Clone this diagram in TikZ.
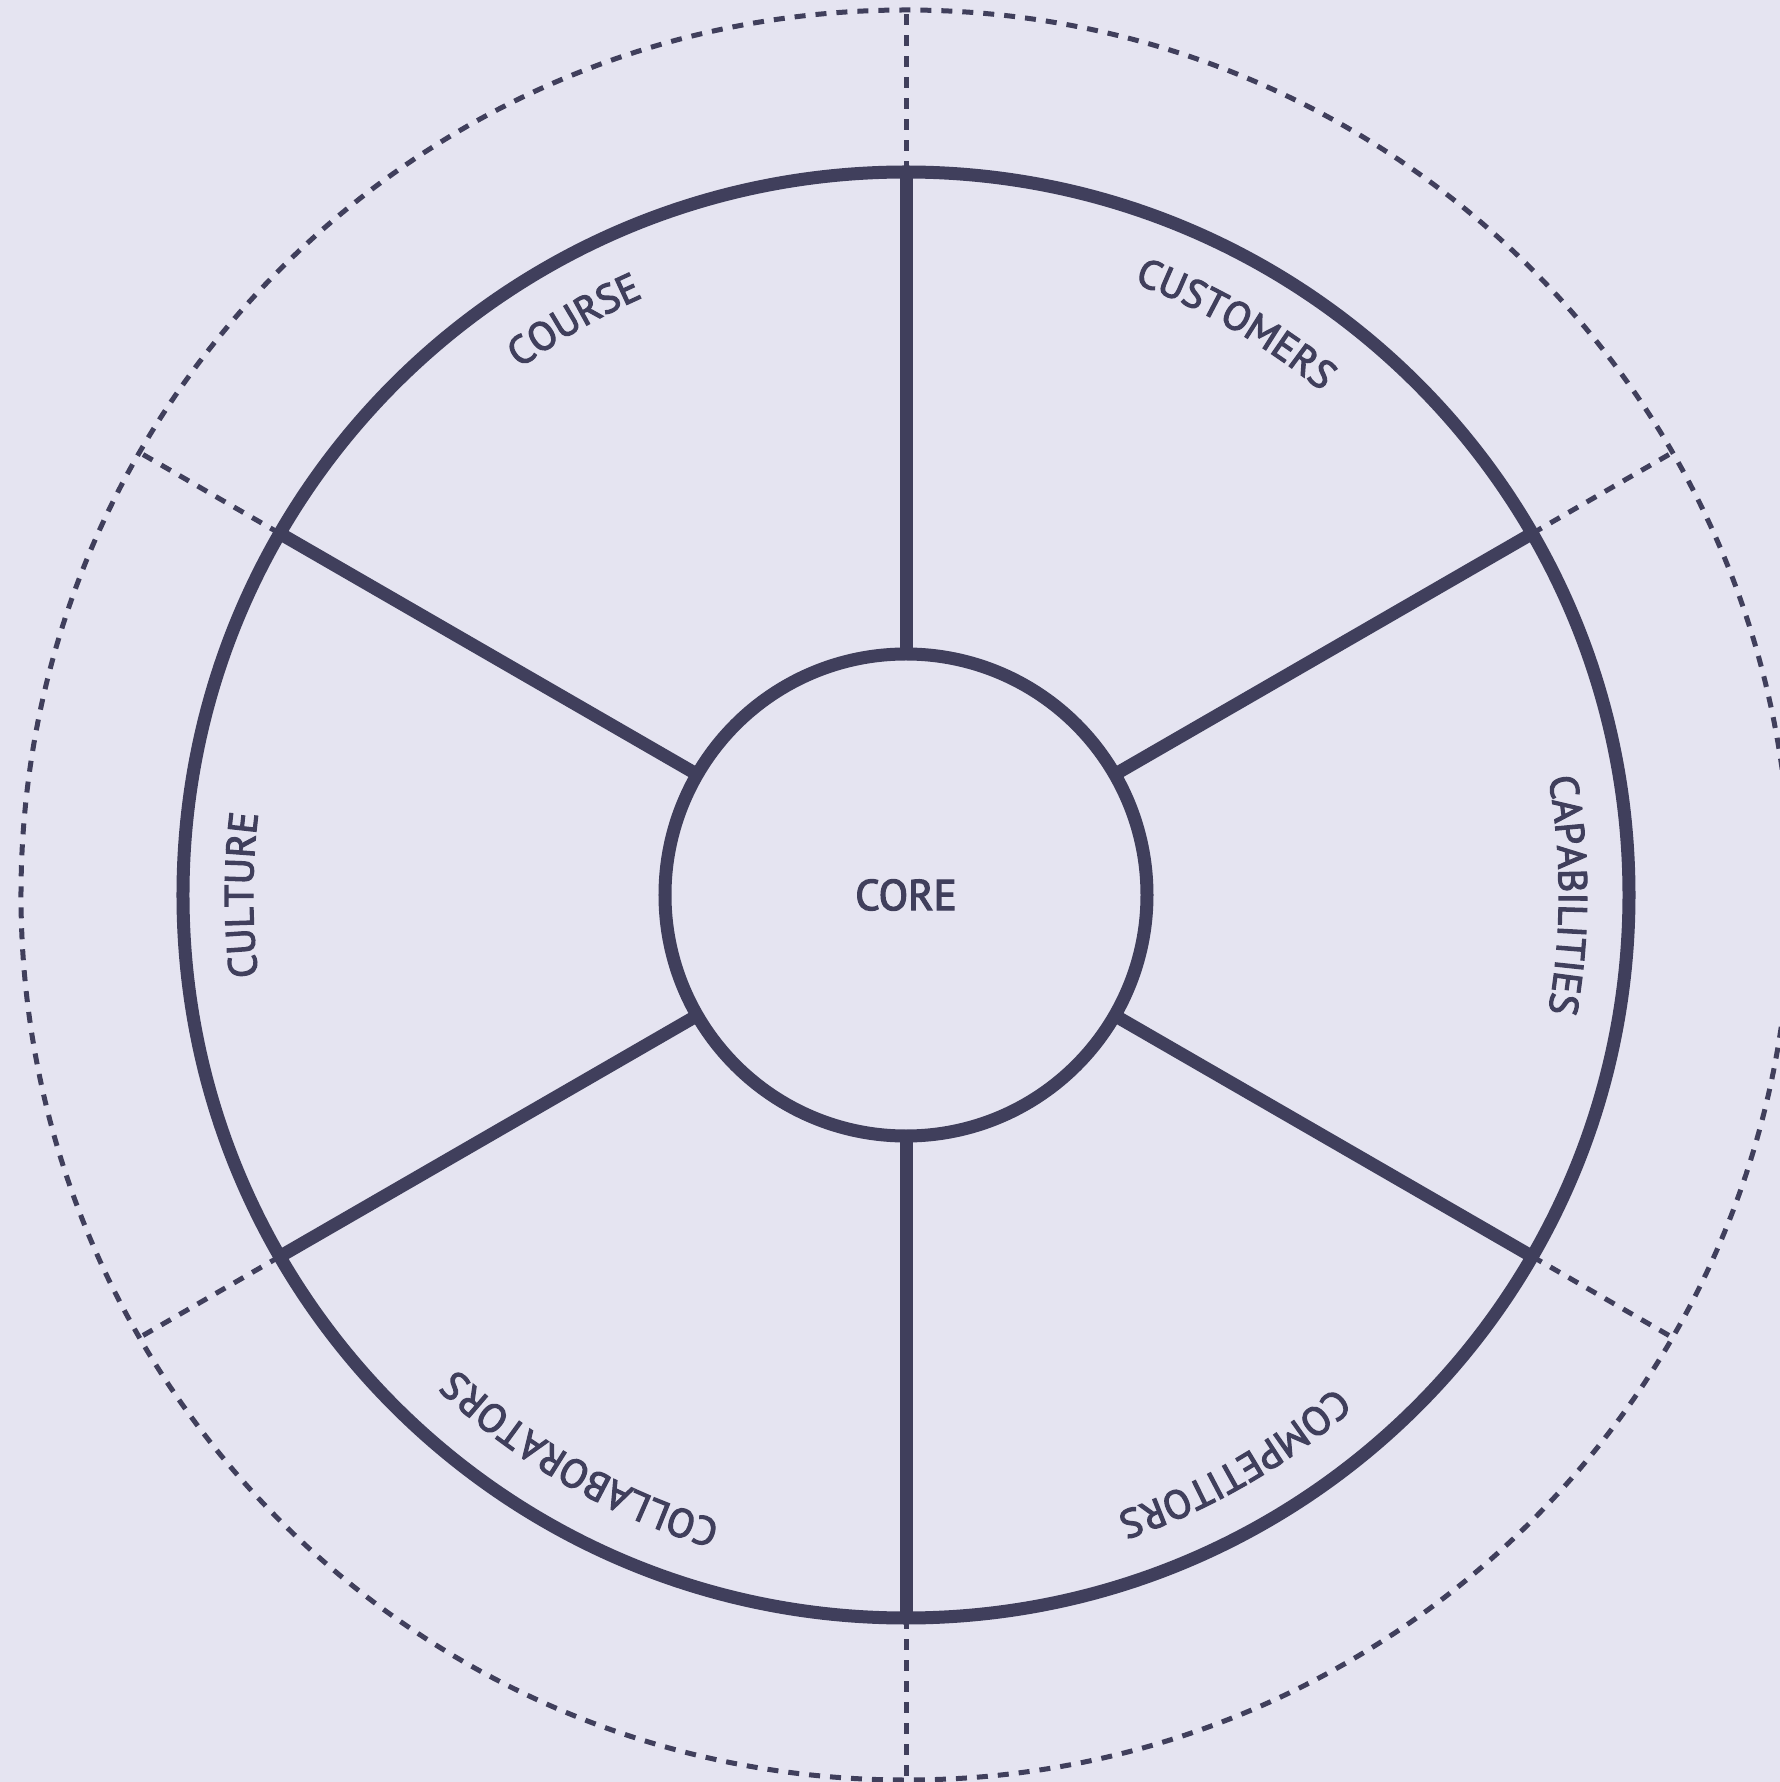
\documentclass[tikz,border=0pt]{standalone}
\usepackage{fontspec}
\setmainfont[FakeBold=3]{PT Sans}
\usetikzlibrary{decorations.text}
\definecolor{ink}{HTML}{403F5C}
\definecolor{bg}{HTML}{E5E4F1}
\newcommand\lblfont{\fontsize{20pt}{24pt}\selectfont\color{ink}}
\tikzset{
  solidline/.style={draw=ink, line width=6.5pt},
  guideline/.style={draw=ink, line width=2.5pt, dash pattern=on 5.5pt off 5pt},
  ringshape/.style={circle, inner sep=0pt, outer sep=0pt},
  arclabel/.style={decorate, decoration={text along path, text align=center, text={|\lblfont|#1}}}
}
\begin{document}
\begin{tikzpicture}[x=0.5pt,y=0.5pt]
\fill[bg] (-906,-887) rectangle (874,895);
\useasboundingbox (-906,-887) rectangle (874,895);
\clip (-906,-887) rectangle (874,895);
% circles
\node[ringshape, guideline, minimum size=885pt] (guide) at (0,0) {};
\node[ringshape, solidline, minimum size=723pt] (ring) at (0,0) {};
\node[ringshape, solidline, minimum size=241pt, text=ink, font=\fontsize{21.5pt}{25pt}\selectfont] (core) at (0,0) {CORE};
% spokes
\foreach \a in {90,30,-30,-90,-150,150}{
  \draw[solidline] (core.\a) -- (ring.\a);
  \draw[guideline] (ring.\a) -- (guide.\a);
}
% labels
\path[arclabel=COURSE] (160:653) arc[start angle=160, end angle=80, radius=653];
\path[arclabel=CUSTOMERS] (100:653) arc[start angle=100, end angle=20, radius=653];
\path[arclabel=CAPABILITIES] (40:653) arc[start angle=40, end angle=-40, radius=653];
\path[arclabel=COMPETITORS] (-20:653) arc[start angle=-20, end angle=-100, radius=653];
\path[arclabel=COLLABORATORS] (-80:653) arc[start angle=-80, end angle=-160, radius=653];
\path[arclabel=CULTURE] (220:653) arc[start angle=220, end angle=140, radius=653];
\end{tikzpicture}
\end{document}
